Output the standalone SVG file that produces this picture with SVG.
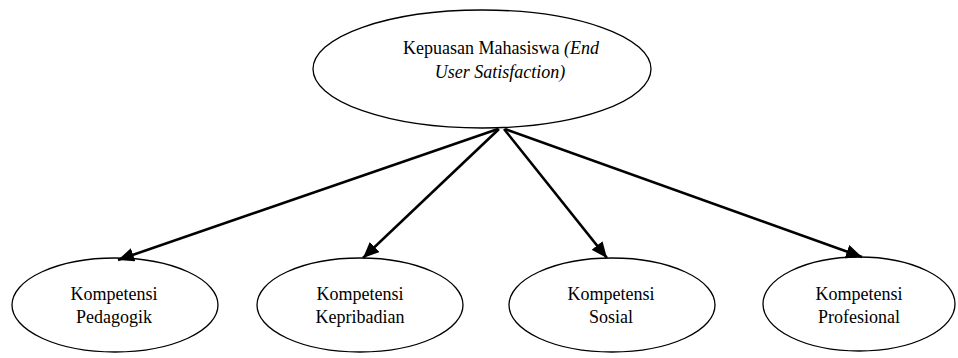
<svg xmlns="http://www.w3.org/2000/svg" width="958" height="358" viewBox="0 0 958 358">
<style>
.n{fill:#fff;stroke:#000;stroke-width:1.3}
.t{font-family:"Liberation Serif","Times New Roman","DejaVu Serif",serif;font-size:18px;fill:#000;text-anchor:middle}
.e{stroke:#000;stroke-width:2.6;fill:none;marker-end:url(#ah)}
</style>
<defs>
<marker id="ah" markerUnits="userSpaceOnUse" markerWidth="18" markerHeight="14" refX="16" refY="7" orient="auto">
<path d="M0,0 L16,7 L0,14 Z" fill="#000"/>
</marker>
</defs>
<g id="root">
<ellipse class="n" cx="482" cy="69" rx="169" ry="59"/>
<text class="t" x="501" y="54">Kepuasan Mahasiswa <tspan font-style="italic">(End</tspan></text>
<text class="t" x="500" y="78" font-style="italic">User Satisfaction)</text>
</g>
<g id="pedagogik">
<ellipse class="n" cx="115" cy="305" rx="103" ry="47"/>
<text class="t" x="114" y="300">Kompetensi</text>
<text class="t" x="114" y="323">Pedagogik</text>
</g>
<g id="kepribadian">
<ellipse class="n" cx="360" cy="305" rx="103" ry="47"/>
<text class="t" x="360" y="300">Kompetensi</text>
<text class="t" x="360" y="323">Kepribadian</text>
</g>
<g id="sosial">
<ellipse class="n" cx="612" cy="305" rx="103" ry="47"/>
<text class="t" x="611" y="300">Kompetensi</text>
<text class="t" x="611" y="323">Sosial</text>
</g>
<g id="profesional">
<ellipse class="n" cx="859" cy="304" rx="96" ry="47"/>
<text class="t" x="859" y="300">Kompetensi</text>
<text class="t" x="859" y="323">Profesional</text>
</g>
<g id="connectors">
<line class="e" x1="498" y1="129" x2="118" y2="260"/>
<line class="e" x1="499" y1="129" x2="363" y2="258"/>
<line class="e" x1="504" y1="129" x2="607" y2="258"/>
<line class="e" x1="505" y1="129" x2="862" y2="257"/>
</g>
</svg>
